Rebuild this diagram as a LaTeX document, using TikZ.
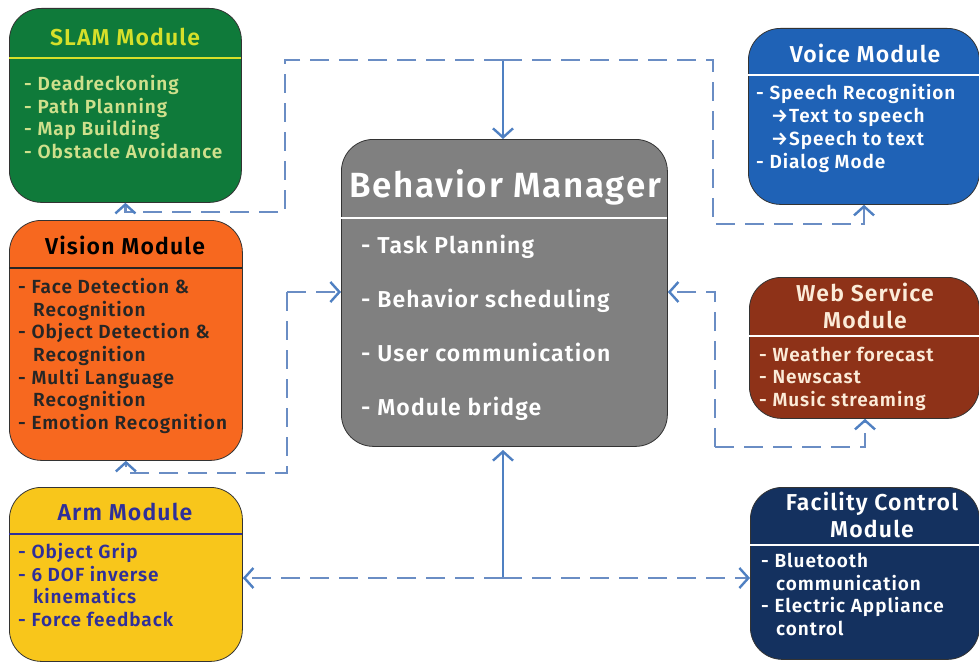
\documentclass[tikz,border=0pt]{standalone}
\usepackage{fontspec}
\setmainfont{Fira Sans}[BoldFont={Fira Sans SemiBold},LetterSpace=5]
\usetikzlibrary{arrows.meta}
\definecolor{cslam}{HTML}{0F7A3A}
\definecolor{cslamt}{HTML}{D6E02A}
\definecolor{cslamb}{HTML}{CFE08C}
\definecolor{cvis}{HTML}{F7681F}
\definecolor{carm}{HTML}{F8C61B}
\definecolor{carmt}{HTML}{2F2F9A}
\definecolor{cvoice}{HTML}{1F62B6}
\definecolor{cweb}{HTML}{8E3218}
\definecolor{cwebt}{HTML}{FBEBD8}
\definecolor{cfac}{HTML}{14315F}
\definecolor{cbeh}{HTML}{808080}
\definecolor{cflow}{HTML}{6A8DC4}
\definecolor{csolid}{HTML}{4F80C2}
\tikzset{
  modbox/.style={draw=black!80,line width=0.8pt,rounded corners=32pt,anchor=north west,inner sep=0pt},
  ttl/.style={font=\bfseries\fontsize{23}{27}\selectfont,align=center,anchor=center},
  body/.style={font=\bfseries\fontsize{19}{22.7}\selectfont,align=left,anchor=north west,inner sep=0pt},
  flow/.style={draw=cflow,line width=2.8pt,dash pattern=on 19pt off 10pt},
  solidflow/.style={draw=csolid,line width=2.8pt},
  tip/.style={-{Straight Barb[length=9pt,width=20pt,line width=2.4pt,color=csolid]}},
}
\begin{document}
\begin{tikzpicture}[x=1pt,y=-1pt]
\useasboundingbox[fill=white] (0,0) rectangle (979,661);
% boxes
\node[modbox,fill=cslam,minimum width=232pt,minimum height=194pt] (slam) at (9,8) {};
\node[modbox,fill=cvis,minimum width=233pt,minimum height=240pt] (vision) at (9,220) {};
\node[modbox,fill=carm,minimum width=233pt,minimum height=174pt] (arm) at (9,487) {};
\node[modbox,fill=cvoice,minimum width=231pt,minimum height=176pt] (voice) at (748,28) {};
\node[modbox,fill=cweb,minimum width=230pt,minimum height=141pt] (web) at (749,277) {};
\node[modbox,fill=cfac,minimum width=229pt,minimum height=172pt] (fac) at (750,487) {};
\node[modbox,fill=cbeh,minimum width=326pt,minimum height=307pt] (beh) at (341,139) {};
% header rules
\draw[cslamt,line width=1.8pt] (9,58) -- (241,58);
\draw[black!85,line width=1.8pt] (9,268) -- (242,268);
\draw[carmt,line width=1.8pt] (9,534) -- (242,534);
\draw[white,line width=1.8pt] (748,75) -- (979,75);
\draw[white,line width=1.8pt] (749,336) -- (979,336);
\draw[white,line width=1.8pt] (750,545) -- (979,545);
\draw[white,line width=2.5pt] (341,218) -- (667,218);
% titles
\node[ttl,text=cslamt] (t1) at (125,36.5) {SLAM Module};
\node[ttl,text=black] (t2) at (125,245.5) {Vision Module};
\node[ttl,text=carmt] (t3) at (125,512) {Arm Module};
\node[ttl,text=white] (t4) at (865,53.5) {Voice Module};
\node[ttl,text=cwebt] (t5) at (865,305.5) {Web Service\\Module};
\node[ttl,text=white] (t6) at (872,515) {Facility Control\\Module};
\node[ttl,text=white,font=\bfseries\fontsize{35}{40}\selectfont] (t7) at (505,187) {Behavior Manager};
% bodies
\node[body,text=cslamb] (b1) at (24,75) {- Deadreckoning\\- Path Planning\\- Map Building\\- Obstacle Avoidance};
\node[body,text=black!85] (b2) at (18,278) {- Face Detection \&\\\hspace*{15pt}Recognition\\- Object Detection \&\\\hspace*{15pt}Recognition\\- Multi Language\\\hspace*{15pt}Recognition\\- Emotion Recognition};
\node[body,text=carmt] (b3) at (18,543) {- Object Grip\\- 6 DOF inverse\\\hspace*{15pt}kinematics\\- Force feedback};
\node[body,text=white] (b4) at (756,84.5) {- Speech Recognition\\\hspace*{15pt}→Text to speech\\\hspace*{15pt}→Speech to text\\- Dialog Mode};
\node[body,text=cwebt] (b5) at (759,346.5) {- Weather forecast\\- Newscast\\- Music streaming};
\node[body,text=white] (b6) at (761,553) {- Bluetooth\\\hspace*{15pt}communication\\- Electric Appliance\\\hspace*{15pt}control};
\node[body,text=white,font=\bfseries\fontsize{23}{54}\selectfont] (b7) at (361,235) {- Task Planning\\- Behavior scheduling\\- User communication\\- Module bridge};
% junctions
\coordinate (topj) at (503,60);
\coordinate (botj) at (503,578);
\coordinate (visj) at (287,473);
\coordinate (webj) at (715,447);
% connectors
\draw[solidflow,tip] (topj) -- (beh.north -| topj);
\draw[flow,tip] (topj) -- (285,60) -- (285,212) -- (slam.south |- 0,212) -- (slam.south);
\draw[flow,tip] (topj) -- (713,60) -- (713,224) -- (864,224) -- (voice.south -| 864,0);
\draw[flow,tip] (287,292) -- (visj) -- (vision.south |- visj) -- (vision.south);
\draw[flow,tip] (287,292) -- (beh.west |- 0,292);
\draw[flow,tip] (webj) -- (715,292) -- (beh.east |- 0,292);
\draw[flow,tip] (webj) -- (865,447) -- (web.south -| 865,0);
\draw[solidflow,tip] (botj) -- (503,450);
\draw[flow,tip] (botj) -- (arm.east |- botj);
\draw[flow,tip] (botj) -- (fac.west |- botj);
\end{tikzpicture}
\end{document}
